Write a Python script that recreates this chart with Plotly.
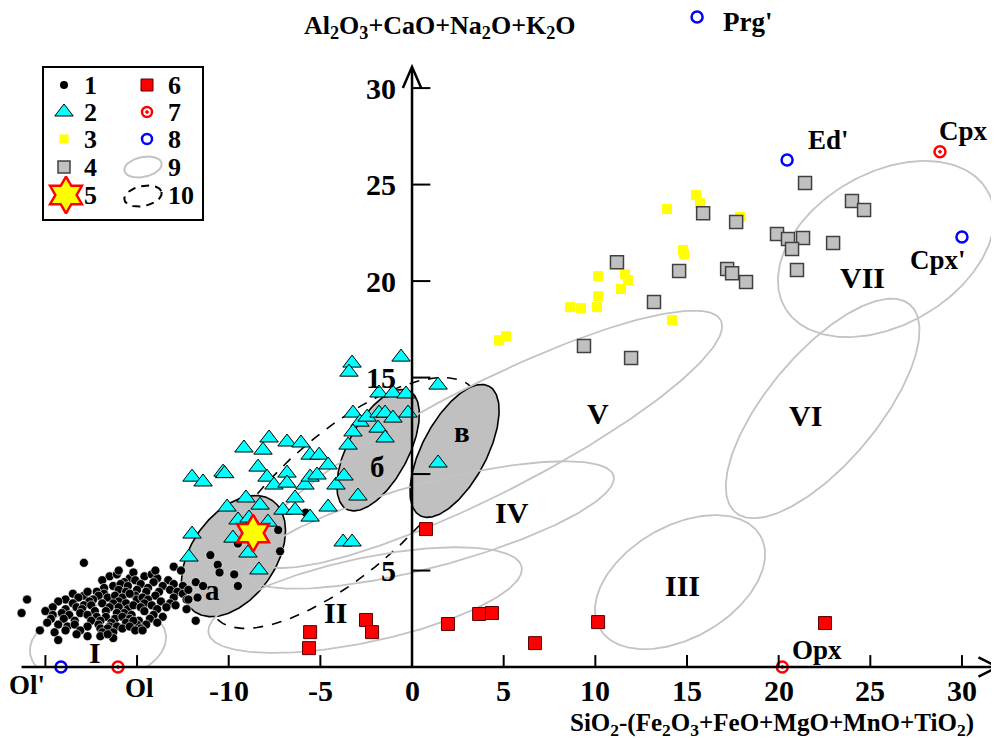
import numpy as np
import plotly.graph_objects as go

# ---------------- data ----------------
dots_x = [-16.5,-16.1,-15.4,-15.2,-14.6,-14.2,-13.9,
          -16.9,-15.7,-15.1,-14.1,-13.3,
          -16.3,-15.9,-15.5,-14.8,-14.4,-13.6,-13.0,-12.5,-16.8,-15.0,
          -17.2,-16.8,-16.0,-15.6,-15.1,-14.5,-13.8,-13.2,-12.8,
          -18.5,-17.9,-17.7,-17.1,-16.6,-16.2,-15.8,-15.4,-15.0,-14.7,-14.0,-13.0,-12.5,-12.3,-17.4,-16.0,-14.4,
          -18.9,-18.2,-17.6,-16.3,-15.6,-14.6,-13.7,-13.2,-12.9,
          -19.3,-18.5,-18.3,-17.9,-17.5,-16.9,-16.5,-16.0,-15.5,-15.2,-14.8,-14.2,-13.9,-13.4,-18.0,-16.7,-15.7,
          -19.6,-18.9,-17.3,-16.1,-15.3,-14.6,-14.1,
          -20.0,-19.6,-19.1,-18.7,-18.1,-17.7,-17.2,-16.7,-16.2,-15.8,-15.4,-14.9,-14.3,-13.6,-17.0,-16.4,-15.0,
          -19.7,-19.0,-18.4,-17.5,-17.1,-16.5,-15.6,-15.2,-14.5,
          -19.9,-19.3,-18.8,-18.4,-17.7,-17.0,-16.6,-16.1,-15.8,-15.4,-14.8,-18.1,-16.9,-16.3,
          -19.5,-18.3,-17.7,-17.0,-16.3,-15.1,-14.7,-18.9,-16.6,
          -17.9,-15.4,-21.0,-21.3,-20.3,-19.3,-13.9,-11.8,-16.0,-14.0,-13.0,-12.6,
          -11.0,-10.6,-10.5,-9.7,-9.5,-11.8,-11.7,-11.4,-12.2,-12.3,-7.3,-7.2,-5.8,-9.5,-12.2]
dots_y = [4.7,4.8,4.6,4.9,4.7,4.8,4.6,
          4.5,4.4,4.5,4.4,4.5,
          4.2,4.3,4.2,4.3,4.1,4.2,4.3,4.2,4.1,4.0,
          3.9,3.8,4.0,3.9,3.7,3.9,3.9,4.0,3.9,
          3.8,3.7,3.9,3.7,3.6,3.7,3.6,3.8,3.5,3.6,3.7,3.6,3.8,3.5,3.5,3.4,3.5,
          3.5,3.6,3.4,3.3,3.3,3.3,3.4,3.3,3.2,
          3.4,3.3,3.1,3.2,3.2,3.3,3.1,3.1,3.0,3.2,3.1,3.2,3.0,3.1,3.0,2.9,2.8,
          3.1,3.0,2.9,2.8,2.7,2.9,2.7,
          2.9,2.7,2.8,2.7,2.8,2.7,2.6,2.6,2.5,2.6,2.5,2.4,2.5,2.6,2.4,2.3,2.2,
          2.5,2.5,2.4,2.4,2.2,2.1,2.3,2.4,2.2,
          2.3,2.2,2.1,2.2,2.1,2.0,2.0,2.1,2.0,2.1,2.0,1.9,1.8,1.8,
          1.8,1.7,1.6,1.6,1.5,1.9,1.9,1.9,1.7,
          5.4,5.4,3.5,2.8,1.9,1.4,2.3,2.4,5.0,5.0,5.2,5.0,
          5.8,5.3,4.9,4.8,4.2,4.4,3.6,4.2,4.0,3.0,7.1,6.0,8.0,6.4,3.5]

tri_x = [-3.27,-3.44,-0.60,1.42,-1.80,-1.04,-0.33,-0.22,-3.22,-2.84,-2.45,-1.80,-1.47,-1.04,-1.85,-3.22,
         -1.47,-3.49,-9.17,-7.80,-8.13,-6.82,-6.06,-5.56,-5.07,-8.40,-4.58,-12.00,-11.40,-10.31,-10.22,
         -7.91,-7.53,-6.82,-6.82,-5.84,-5.56,-5.18,-4.15,-3.71,1.42,-2.95,-9.06,-8.29,-10.09,-6.38,-7.04,
         -6.38,-5.56,-4.58,-9.49,-8.89,-7.86,-9.77,-12.00,-8.95,-12.17,-8.35,-3.76,-3.27]
tri_y = [15.75,15.28,16.06,14.61,14.20,14.20,14.15,13.16,13.16,12.69,12.95,13.16,13.16,12.90,12.38,12.18,
         11.87,11.50,11.35,11.87,11.24,11.66,11.61,10.98,10.98,10.36,10.47,9.84,9.59,10.10,10.02,
         9.84,9.43,10.05,9.53,9.43,9.84,9.95,9.43,9.90,10.57,8.86,8.76,8.39,8.29,8.76,8.13,
         8.13,7.77,8.29,7.62,7.72,7.51,6.68,6.89,5.91,5.70,5.03,6.48,6.48]

yel_x = [15.49,15.71,13.91,17.89,14.78,14.84,10.15,11.62,11.78,11.40,10.15,8.62,9.22,10.09,14.18,4.75,5.13]
yel_y = [24.46,24.04,23.73,23.32,21.61,21.40,20.26,20.36,20.05,19.59,19.22,18.65,18.60,18.65,17.98,16.94,17.15]

gray_x = [21.44,24.00,24.66,15.88,17.68,19.91,20.51,21.33,20.73,22.97,21.00,11.18,14.57,17.19,17.46,18.22,13.20,9.38,11.95]
gray_y = [25.08,24.15,23.68,23.52,23.06,22.44,22.18,22.23,21.66,21.97,20.57,20.98,20.52,20.62,20.41,19.95,18.91,16.63,16.01]

red_x = [0.76,1.96,3.66,4.36,6.71,10.15,22.53,-5.56,-5.62,-2.51,-2.18]
red_y = [7.15,2.23,2.75,2.80,1.24,2.33,2.28,1.81,0.98,2.44,1.81]

star_x = [-8.67]
star_y = [6.94]

min7_names = ["Ol", "Opx", "Cpx"]
min7_x = [-16.04, 20.2, 28.8]
min7_y = [0.0, 0.0, 26.7]
min7_lx = [-14.84, 22.1, 30.1]
min7_ly = [-1.09, 0.9, 27.8]

min8_names = ["Ol'", "Ed'", "Cpx'", "Prg'"]
min8_x = [-19.15, 20.46, 30.0, 15.55]
min8_y = [0.0, 26.27, 22.28, 33.68]
min8_lx = [-21.0, 22.7, 28.7, 18.3]
min8_ly = [-0.95, 27.3, 21.1, 33.4]

# fields: name, label position, ellipse centre, semi-axes (x units), tilt (deg)
field_names = ["I", "II", "III", "IV", "V", "VI", "VII"]
field_lx = [-17.29, -4.2, 14.78, 5.46, 10.15, 21.44, 24.55]
field_ly = [0.73, 2.85, 4.25, 8.03, 13.16, 13.06, 20.16]
field_cx = [-17.13, -2.56, 14.62, 0.98, 4.1, 22.40, 25.86]
field_cy = [1.19, 3.47, 4.40, 7.36, 11.8, 13.40, 21.66]
field_a = [3.74, 8.73, 5.06, 10.37, 14.3, 7.4, 6.38]
field_b = [2.13, 2.29, 3.05, 2.29, 3.0, 3.0, 4.15]
field_ang = [8, 12, 30, 15, 27, 50, 30]

sub_names = ["а", "б", "в"]
sub_lx = [-10.86, -1.91, 2.73]
sub_ly = [3.99, 10.36, 12.18]
sub_cx = [-9.74, -1.85, 2.32]
sub_cy = [5.75, 11.24, 11.2]
sub_a = [3.7, 3.65, 4.0]
sub_b = [2.3, 1.65, 1.75]
sub_ang = [55, 62, 62]

dash_cx, dash_cy, dash_a, dash_b, dash_ang = -3.7, 8.5, 9.4, 3.75, 41.6

x_ticks = [-20, -15, -10, -5, 5, 10, 15, 20, 25, 30]
x_tick_labels = ["", "", "-10", "-5", "5", "10", "15", "20", "25", "30"]
y_ticks = [5, 10, 15, 20, 25, 30]
y_tick_labels = ["5", "", "15", "20", "25", "30"]
x_zero_label = "0"

legend_labels = ["1", "2", "3", "4", "5", "6", "7", "8", "9", "10"]

# ---------------- geometry ----------------
PAGE = 8                     # default body margin of the html page
W, H = 999 - PAGE, 740 - PAGE
X0, X1 = -22.04, 32.02
Y0, Y1 = -3.78, 34.15
KY = (W / (X1 - X0)) / (H / (Y1 - Y0))
SERIF = "Liberation Serif"


def ellipse(cx, cy, a, b, ang, n=240, ky=KY):
    t = np.linspace(0, 2 * np.pi, n)
    th = np.radians(ang)
    u, v = a * np.cos(t), b * np.sin(t)
    return cx + u * np.cos(th) - v * np.sin(th), cy + (u * np.sin(th) + v * np.cos(th)) * ky


fig = go.Figure()

# dashed field (10)
ex, ey = ellipse(dash_cx, dash_cy, dash_a, dash_b, dash_ang)
fig.add_trace(go.Scatter(x=ex, y=ey, mode="lines", line=dict(color="black", width=1.6, dash="10px,9px"),
                         hoverinfo="skip", showlegend=False))

# shaded fields а, б, в
for i in range(3):
    ex, ey = ellipse(sub_cx[i], sub_cy[i], sub_a[i], sub_b[i], sub_ang[i])
    fig.add_trace(go.Scatter(x=ex, y=ey, mode="lines", fill="toself", fillcolor="#C0C0C0",
                             line=dict(color="black", width=1.6), hoverinfo="skip", showlegend=False))

# gray fields I..VII
for i in range(len(field_names)):
    ex, ey = ellipse(field_cx[i], field_cy[i], field_a[i], field_b[i], field_ang[i])
    if field_names[i] == "I":
        ey = np.maximum(ey, 0)
    fig.add_trace(go.Scatter(x=ex, y=ey, mode="lines", line=dict(color="#C3C3C3", width=1.8),
                             hoverinfo="skip", showlegend=False))

fig.add_trace(go.Scatter(x=dots_x, y=dots_y, mode="markers",
                         marker=dict(symbol="circle", size=9, color="black", line=dict(color="white", width=0.6)),
                         showlegend=False))
fig.add_trace(go.Scatter(x=red_x, y=red_y, mode="markers",
                         marker=dict(symbol="square", size=13, color="#FF0000", line=dict(color="#5a0000", width=1)),
                         showlegend=False))
fig.add_trace(go.Scatter(x=yel_x, y=yel_y, mode="markers",
                         marker=dict(symbol="square", size=10, color="#FFFF00", line=dict(width=0)),
                         showlegend=False))
fig.add_trace(go.Scatter(x=gray_x, y=gray_y, mode="markers",
                         marker=dict(symbol="square", size=13, color="#C0C0C0", line=dict(color="#404040", width=1.5)),
                         showlegend=False))
fig.add_trace(go.Scatter(x=tri_x, y=tri_y, mode="markers",
                         marker=dict(symbol="triangle-up", size=16, color="#00FFFF", line=dict(color="black", width=1)),
                         showlegend=False))
fig.add_trace(go.Scatter(x=star_x, y=star_y, mode="markers",
                         marker=dict(symbol="hexagram", size=28, color="#FFFF00", line=dict(color="#FF0000", width=2.5)),
                         showlegend=False))
fig.add_trace(go.Scatter(x=min7_x, y=min7_y, mode="markers",
                         marker=dict(symbol="circle-open-dot", size=11, color="#FF0000", line=dict(width=2.5)),
                         showlegend=False, cliponaxis=False))
fig.add_trace(go.Scatter(x=min8_x, y=min8_y, mode="markers",
                         marker=dict(symbol="circle-open", size=11, color="#0000FF", line=dict(width=2.5)),
                         showlegend=False, cliponaxis=False))

# ---------------- axes (drawn through the data scale) ----------------
axis_line = dict(color="black", width=2.5)
shapes = []
shapes.append(dict(type="line", x0=-21.3, y0=0, x1=31.85, y1=0, xref="x", yref="y", line=axis_line))
shapes.append(dict(type="line", x0=0, y0=0, x1=0, y1=31.0, xref="x", yref="y", line=axis_line))
shapes.append(dict(type="path", path="M 30.9,0.5 L 31.95,0 L 30.9,-0.5", xref="x", yref="y", line=axis_line))
shapes.append(dict(type="path", path="M -0.5,30.0 L 0,31.1 L 0.5,30.0", xref="x", yref="y", line=axis_line))
for xt in x_ticks:
    shapes.append(dict(type="line", x0=xt, y0=0, x1=xt, y1=0.62, xref="x", yref="y",
                       line=dict(color="black", width=2)))
for yt in y_ticks:
    shapes.append(dict(type="line", x0=0, y0=yt, x1=1.0, y1=yt, xref="x", yref="y",
                       line=dict(color="black", width=2)))

# legend box (pixel overlay axes)
shapes.append(dict(type="rect", xref="x2", yref="y2", x0=43, x1=203, y0=67, y1=220,
                   line=dict(color="black", width=2)))

ann = []
tick_font = dict(family=SERIF, size=30, color="black")
for xt, lab in zip(x_ticks, x_tick_labels):
    if lab:
        ann.append(dict(x=xt, y=-1.2, text=f"<b>{lab}</b>", showarrow=False, font=tick_font,
                        xanchor="center", yanchor="middle"))
ann.append(dict(x=0, y=-1.2, text=f"<b>{x_zero_label}</b>", showarrow=False, font=tick_font,
                xanchor="center", yanchor="middle"))
for yt, lab in zip(y_ticks, y_tick_labels):
    if lab:
        ann.append(dict(x=-0.75, y=yt, text=f"<b>{lab}</b>", showarrow=False, font=tick_font,
                        xanchor="right", yanchor="middle"))

title_font = dict(family=SERIF, size=25, color="black")
ann.append(dict(x=440, y=27, xref="x2", yref="y2",
                text="<b>Al<sub>2</sub>O<sub>3</sub>+CaO+Na<sub>2</sub>O+K<sub>2</sub>O</b>",
                showarrow=False, font=dict(family=SERIF, size=26, color="black"),
                xanchor="center", yanchor="middle"))
ann.append(dict(x=772, y=724, xref="x2", yref="y2",
                text="<b>SiO<sub>2</sub>-(Fe<sub>2</sub>O<sub>3</sub>+FeO+MgO+MnO+TiO<sub>2</sub>)</b>",
                showarrow=False, font=title_font, xanchor="center", yanchor="middle"))

field_font = dict(family=SERIF, size=30, color="black")
for n, lx, ly in zip(field_names, field_lx, field_ly):
    ann.append(dict(x=lx, y=ly, text=f"<b>{n}</b>", showarrow=False, font=field_font))
sub_font = dict(family=SERIF, size=29, color="black")
for n, lx, ly in zip(sub_names, sub_lx, sub_ly):
    ann.append(dict(x=lx, y=ly, text=f"<b>{n}</b>", showarrow=False, font=sub_font))

min_font = dict(family=SERIF, size=27, color="black")
for n, lx, ly in zip(min7_names + min8_names, min7_lx + min8_lx, min7_ly + min8_ly):
    ann.append(dict(x=lx, y=ly, text=f"<b>{n}</b>", showarrow=False, font=min_font))

# ---------------- legend content (pixel overlay axes) ----------------
leg_font = dict(family=SERIF, size=26, color="black")
rows = [85, 112, 139, 167, 195]
left_sym = [
    dict(symbol="circle", size=8, color="black"),
    dict(symbol="triangle-up", size=16, color="#00FFFF", line=dict(color="black", width=1)),
    dict(symbol="square", size=9, color="#FFFF00"),
    dict(symbol="square", size=12, color="#C0C0C0", line=dict(color="#404040", width=1.5)),
    dict(symbol="hexagram", size=28, color="#FFFF00", line=dict(color="#FF0000", width=2.5)),
]
right_sym = [
    dict(symbol="square", size=12, color="#FF0000", line=dict(color="#5a0000", width=1)),
    dict(symbol="circle-open-dot", size=10, color="#FF0000", line=dict(width=2.5)),
    dict(symbol="circle-open", size=10, color="#0000FF", line=dict(width=2.5)),
]
for i, r in enumerate(rows):
    fig.add_trace(go.Scatter(x=[64 if i < 4 else 66], y=[r], xaxis="x2", yaxis="y2", mode="markers",
                             marker=left_sym[i], showlegend=False, hoverinfo="skip"))
    ann.append(dict(x=82, y=r, xref="x2", yref="y2", text=f"<b>{legend_labels[i]}</b>", showarrow=False,
                    font=leg_font, xanchor="left", yanchor="middle"))
for i, r in enumerate(rows[:3]):
    fig.add_trace(go.Scatter(x=[147], y=[r], xaxis="x2", yaxis="y2", mode="markers",
                             marker=right_sym[i], showlegend=False, hoverinfo="skip"))
for i, r in enumerate(rows):
    ann.append(dict(x=166, y=r, xref="x2", yref="y2", text=f"<b>{legend_labels[5 + i]}</b>", showarrow=False,
                    font=leg_font, xanchor="left", yanchor="middle"))
lx9, ly9 = ellipse(143, 167, 19, 10, -12, ky=1)
fig.add_trace(go.Scatter(x=lx9, y=ly9, xaxis="x2", yaxis="y2", mode="lines",
                         line=dict(color="#C3C3C3", width=2), showlegend=False, hoverinfo="skip"))
lx10, ly10 = ellipse(143, 196, 19, 10, -12, ky=1)
fig.add_trace(go.Scatter(x=lx10, y=ly10, xaxis="x2", yaxis="y2", mode="lines",
                         line=dict(color="black", width=2, dash="8px,6px"), showlegend=False, hoverinfo="skip"))

fig.update_layout(
    width=W, height=H, autosize=False,
    margin=dict(l=0, r=0, t=0, b=0),
    paper_bgcolor="white", plot_bgcolor="white",
    xaxis=dict(range=[X0, X1], visible=False, domain=[0, 1]),
    yaxis=dict(range=[Y0, Y1], visible=False, domain=[0, 1]),
    xaxis2=dict(range=[PAGE, 999], visible=False, overlaying="x", domain=[0, 1]),
    yaxis2=dict(range=[740, PAGE], visible=False, overlaying="y", domain=[0, 1]),
    shapes=shapes, annotations=ann, showlegend=False,
)

fig.write_html("out.html")
